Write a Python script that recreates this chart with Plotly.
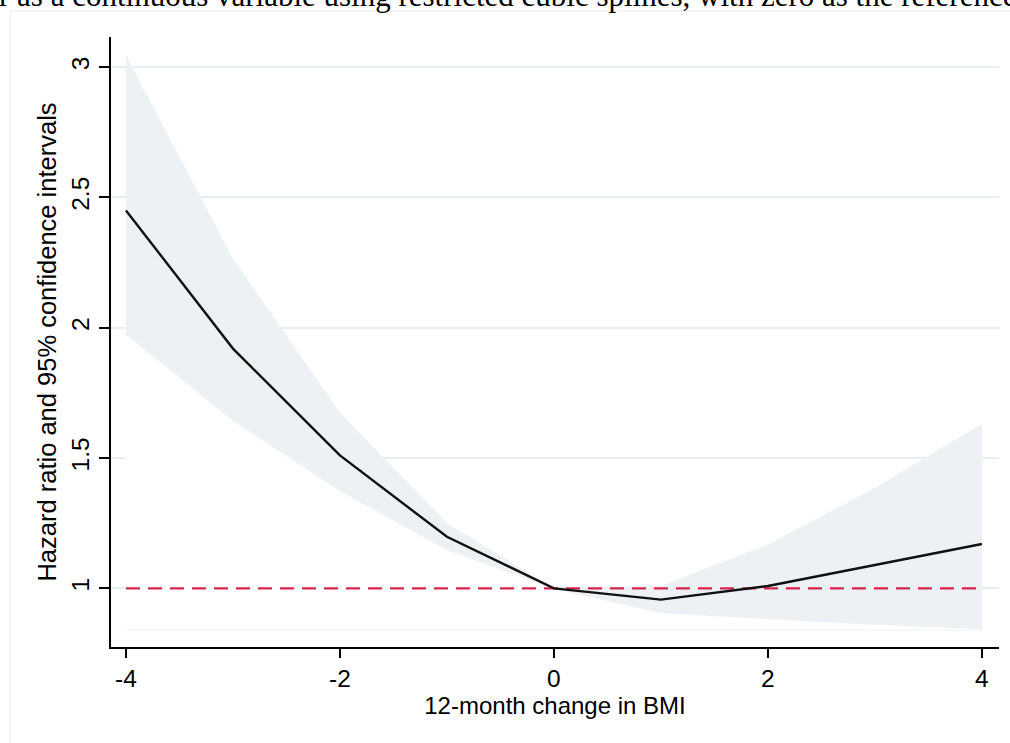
import plotly.graph_objects as go

# ---- data ----
bmi_change = [-4, -3, -2, -1, 0, 1, 2, 3, 4]
hazard_ratio = [2.45, 1.92, 1.51, 1.198, 1.00, 0.957, 1.009, 1.09, 1.17]
ci_upper = [3.045, 2.265, 1.675, 1.25, 1.00, 1.009, 1.168, 1.385, 1.632]
ci_lower = [1.975, 1.645, 1.375, 1.149, 1.00, 0.907, 0.884, 0.862, 0.846]
area_base = 0.84          # baseline of the Stata area plots
reference_hr = 1.0        # reference line (HR = 1)
x_ticks = [-4, -2, 0, 2, 4]
y_ticks = [1, 1.5, 2, 2.5, 3]
y_tick_text = ["1", "1.5", "2", "2.5", "3"]

caption = "r as a continuous variable using restricted cubic splines, with zero as the reference group"

FONT = "Liberation Sans, Arial, Helvetica, sans-serif"

fig = go.Figure()

# grey area: upper CI down to baseline
fig.add_trace(go.Scatter(
    x=bmi_change + bmi_change[::-1],
    y=ci_upper + [area_base] * len(bmi_change),
    fill="toself", fillcolor="#edf1f4",
    line=dict(width=0), mode="lines", hoverinfo="skip", showlegend=False,
))
# white area: lower CI down to baseline
fig.add_trace(go.Scatter(
    x=bmi_change + bmi_change[::-1],
    y=ci_lower + [area_base] * len(bmi_change),
    fill="toself", fillcolor="#ffffff",
    line=dict(width=1, color="#eef1f3"), mode="lines", hoverinfo="skip", showlegend=False,
))
# reference line
fig.add_trace(go.Scatter(
    x=[bmi_change[0], bmi_change[-1]],
    y=[reference_hr, reference_hr],
    mode="lines", line=dict(color="#d6264f", width=2.4, dash="14px,8px"),
    hoverinfo="skip", showlegend=False,
))
# hazard ratio line
fig.add_trace(go.Scatter(
    x=bmi_change, y=hazard_ratio, mode="lines",
    line=dict(color="#111111", width=2.4), showlegend=False,
))

# pixel helpers for the plot frame (plot area 111..999 x 37..647)
L, R, T, B = 111, 999, 37, 647
W, H = 1010, 743
def px_x(p):
    return (p - L) / (R - L)
def px_y(p):
    return (B - p) / (B - T)

fig.update_layout(
    width=W, height=H, autosize=False,
    margin=dict(l=L, r=W - R, t=T, b=H - B, pad=0),
    paper_bgcolor="white", plot_bgcolor="white",
    font=dict(family=FONT, color="black"),
    xaxis=dict(
        range=[-4.14, 4.16], tickvals=x_ticks, ticktext=[str(v) for v in x_ticks],
        showgrid=False, zeroline=False,
        showline=True, linecolor="black", linewidth=1.5,
        ticks="outside", ticklen=9, tickwidth=1.5, tickcolor="black",
        tickfont=dict(size=24.5, family=FONT, color="black"),
        title=dict(text="12-month change in BMI", font=dict(size=24, family=FONT, color="black"), standoff=6),
    ),
    yaxis=dict(
        range=[0.775, 3.1155], tickvals=y_ticks, ticktext=y_tick_text, tickangle=-90,
        showgrid=True, gridcolor="#e5eef0", gridwidth=1.5, zeroline=False,
        showline=True, linecolor="black", linewidth=1.5,
        ticks="outside", ticklen=10, tickwidth=1.5, tickcolor="black",
        tickfont=dict(size=24.5, family=FONT, color="black"),
        title=dict(text="Hazard ratio and 95% confidence intervals", font=dict(size=25.5, family=FONT, color="black"), standoff=4),
    ),
    shapes=[
        dict(type="line", xref="paper", yref="paper", x0=px_x(10), x1=px_x(1012), y0=px_y(11), y1=px_y(11),
             line=dict(color="#ebebeb", width=1)),
        dict(type="line", xref="paper", yref="paper", x0=px_x(10), x1=px_x(10), y0=px_y(11), y1=px_y(745),
             line=dict(color="#ebebeb", width=1)),
    ],
    annotations=[
        dict(text=caption, xref="paper", yref="paper", x=px_x(-3), y=px_y(-4),
             xanchor="left", yanchor="middle", showarrow=False,
             font=dict(family="Liberation Serif, Times New Roman, serif", size=31, color="black")),
    ],
)

fig.write_html(
    "out.html",
    config={"displayModeBar": False},
    post_script="document.body.style.margin='0';document.body.style.overflow='hidden';",
)
